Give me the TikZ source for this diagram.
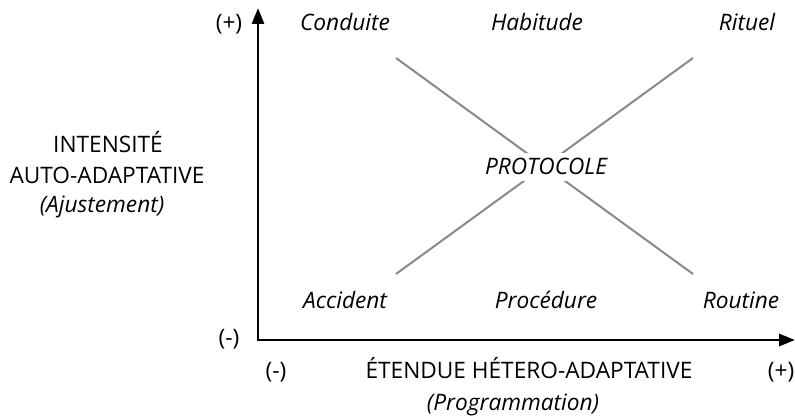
\documentclass[tikz,border=0pt]{standalone}
\usepackage{fontspec}
\setmainfont{Open Sans}
\usetikzlibrary{arrows.meta}
\definecolor{diaggray}{RGB}{138,138,138}
\tikzset{
	axis/.style={line width=2.2pt, {Triangle[length=12pt,width=9pt]}-{Triangle[length=12pt,width=9pt]}},
	diag/.style={line width=1.5pt, diaggray},
	lbl/.style={inner sep=0pt, anchor=base, font=\fontsize{17}{20}\selectfont},
	ilbl/.style={lbl, font=\fontsize{17}{20}\selectfont\itshape}
}
\begin{document}
\begin{tikzpicture}[x=0.75pt, y=-0.75pt]
	\useasboundingbox (0,0) rectangle (795,417);
	% axes
	\coordinate (o) at (258,340);
	\coordinate (ytop) at (258,8);
	\coordinate (xend) at (795,340);
	\draw[axis] (ytop) -- (o) -- (xend);
	% diagonals
	\coordinate (tl) at (396,58);
	\coordinate (tr) at (693,58);
	\coordinate (bl) at (396,274);
	\coordinate (br) at (693,274);
	\draw[diag] (tl) -- (br);
	\draw[diag] (bl) -- (tr);
	% labels
	\node[ilbl, fill=white, inner sep=4pt] (protocole) at (546,175) {PROTOCOLE};
	\node[ilbl] (conduite) at (345,31) {Conduite};
	\node[ilbl] (habitude) at (537,31) {Habitude};
	\node[ilbl] (rituel) at (747,31) {Rituel};
	\node[ilbl] (accident) at (345,308) {Accident};
	\node[ilbl] (procedure) at (546,308) {Procédure};
	\node[ilbl] (routine) at (741,308) {Routine};
	\node[lbl] (yplus) at (229,31) {(+)};
	\node[lbl] (yminus) at (229,345) {(-)};
	\node[lbl] (xminus) at (276,378) {(-)};
	\node[lbl] (xplus) at (781,378) {(+)};
	\node[lbl] (xtitle) at (529,378) {ÉTENDUE HÉTERO-ADAPTATIVE};
	\node[ilbl] (xsub) at (513,410) {(Programmation)};
	\node[lbl] (ytitle1) at (108,152) {INTENSITÉ};
	\node[lbl] (ytitle2) at (107,183) {AUTO-ADAPTATIVE};
	\node[ilbl] (ysub) at (102,212) {(Ajustement)};
\end{tikzpicture}
\end{document}
